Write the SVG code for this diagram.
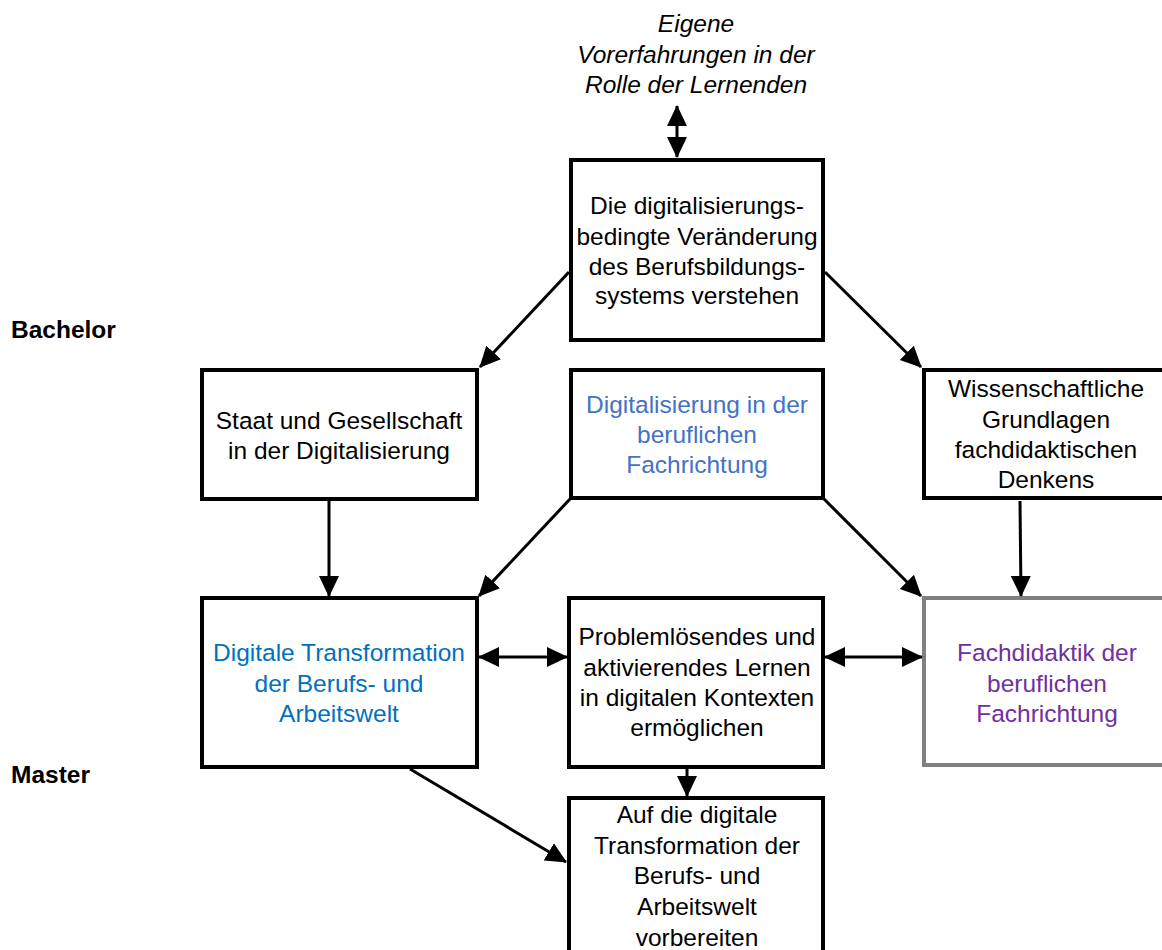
<svg xmlns="http://www.w3.org/2000/svg" width="1162" height="950" viewBox="0 0 1162 950">
<style>
text{font-family:"Liberation Sans",Arial,sans-serif;font-size:24.5px;text-anchor:middle;fill:#000}
.box{fill:#fff;stroke:#000;stroke-width:4}
.gray{stroke:#808080}
.lbl{font-weight:bold;text-anchor:start}
.it{font-style:italic}
.blue1{fill:#4472C4}
.blue2{fill:#0070C0}
.purple{fill:#7030A0}
.c{fill:none;stroke:#000;stroke-width:3}
</style>
<defs>
<marker id="ah" markerUnits="userSpaceOnUse" markerWidth="22" markerHeight="22" viewBox="0 0 22 22" refX="20" refY="11" orient="auto-start-reverse">
<path d="M0,1 L21,11 L0,21 Z" fill="#000"/>
</marker>
</defs>
<rect width="1162" height="950" fill="#fff"/>
<text class="lbl" x="11" y="338">Bachelor</text>
<text class="lbl" x="11" y="783">Master</text>
<g id="n-eigene">
<text class="it" x="696" y="32">Eigene</text>
<text class="it" x="696" y="63">Vorerfahrungen in der</text>
<text class="it" x="696" y="93">Rolle der Lernenden</text>
</g>
<g id="n-top">
<rect class="box" x="571" y="160" width="252" height="180"/>
<text x="697" y="214">Die digitalisierungs-</text>
<text x="697" y="245">bedingte Veränderung</text>
<text x="697" y="275">des Berufsbildungs-</text>
<text x="697" y="304">systems verstehen</text>
</g>
<g id="n-staat">
<rect class="box" x="202" y="370" width="275" height="129"/>
<text x="339" y="429">Staat und Gesellschaft</text>
<text x="339" y="459">in der Digitalisierung</text>
</g>
<g id="n-digi">
<rect class="box" x="571" y="370" width="252" height="128"/>
<text class="blue1" x="697" y="413">Digitalisierung in der</text>
<text class="blue1" x="697" y="443">beruflichen</text>
<text class="blue1" x="697" y="473">Fachrichtung</text>
</g>
<g id="n-wiss">
<rect class="box" x="924" y="370" width="240" height="128"/>
<text x="1046" y="397">Wissenschaftliche</text>
<text x="1046" y="428">Grundlagen</text>
<text x="1046" y="458">fachdidaktischen</text>
<text x="1046" y="488">Denkens</text>
</g>
<g id="n-dtrans">
<rect class="box" x="202" y="598" width="275" height="169"/>
<text class="blue2" x="339" y="661">Digitale Transformation</text>
<text class="blue2" x="339" y="692">der Berufs- und</text>
<text class="blue2" x="339" y="722">Arbeitswelt</text>
</g>
<g id="n-problem">
<rect class="box" x="569" y="598" width="254" height="169"/>
<text x="697" y="645">Problemlösendes und</text>
<text x="697" y="676">aktivierendes Lernen</text>
<text x="697" y="706">in digitalen Kontexten</text>
<text x="697" y="736">ermöglichen</text>
</g>
<g id="n-fach">
<rect class="box gray" x="924" y="598" width="240" height="167"/>
<text class="purple" x="1047" y="661">Fachdidaktik der</text>
<text class="purple" x="1047" y="692">beruflichen</text>
<text class="purple" x="1047" y="722">Fachrichtung</text>
</g>
<g id="n-bottom">
<rect class="box" x="569" y="798" width="254" height="170"/>
<text x="697" y="823">Auf die digitale</text>
<text x="697" y="854">Transformation der</text>
<text x="697" y="884">Berufs- und</text>
<text x="697" y="915">Arbeitswelt</text>
<text x="697" y="946">vorbereiten</text>
</g>
<g id="connectors">
<line class="c" x1="677" y1="106" x2="677" y2="157" marker-start="url(#ah)" marker-end="url(#ah)"/>
<line class="c" x1="569" y1="272" x2="480" y2="367" marker-end="url(#ah)"/>
<line class="c" x1="825" y1="272" x2="921" y2="367" marker-end="url(#ah)"/>
<line class="c" x1="329" y1="501" x2="329" y2="596" marker-end="url(#ah)"/>
<line class="c" x1="570" y1="499" x2="479" y2="596" marker-end="url(#ah)"/>
<line class="c" x1="824" y1="499" x2="921" y2="596" marker-end="url(#ah)"/>
<line class="c" x1="1020" y1="501" x2="1021" y2="596" marker-end="url(#ah)"/>
<line class="c" x1="479" y1="657" x2="567" y2="657" marker-start="url(#ah)" marker-end="url(#ah)"/>
<line class="c" x1="825" y1="657" x2="922" y2="657" marker-start="url(#ah)" marker-end="url(#ah)"/>
<line class="c" x1="687" y1="769" x2="687" y2="796" marker-end="url(#ah)"/>
<line class="c" x1="410" y1="769" x2="566" y2="862" marker-end="url(#ah)"/>
</g>
</svg>
